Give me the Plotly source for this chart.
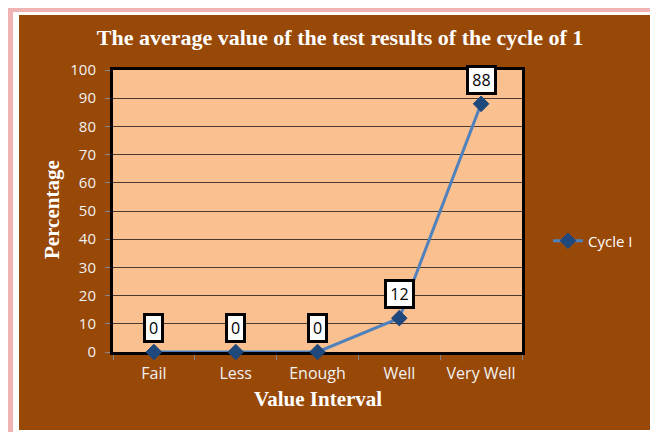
import plotly.graph_objects as go

categories = ["Fail", "Less", "Enough", "Well", "Very Well"]
values = [0, 0, 0, 12, 88]
series_name = "Cycle I"
title_text = "The average value of the test results of the cycle of 1"
x_title = "Value Interval"
y_title = "Percentage"

OFF = 8  # page body margin
W, H = 658, 432
L, R, T, B = 113 - OFF, 522 - OFF, 70 - OFF, 352 - OFF  # plot area in figure px


def px(x):
    """page x -> paper x"""
    return (x - OFF - L) / (R - L)


def py(y):
    """page y -> paper y"""
    return (B - (y - OFF)) / (B - T)


BROWN = "#984807"
PEACH = "#FAC090"
serif = "Liberation Serif, Times New Roman, serif"
sans = "Open Sans, Noto Sans, sans-serif"

fig = go.Figure()
fig.add_trace(go.Scatter(
    x=categories, y=values, mode="lines+markers", name=series_name,
    line=dict(color="#4F81BD", width=3),
    marker=dict(symbol="diamond", size=12, color="#1F497D",
                line=dict(color="#1F497D", width=1)),
    cliponaxis=False,
))

annotations = []
for c, v in zip(categories, values):
    label = str(v)
    annotations.append(dict(
        x=c, y=v, xref="x", yref="y", text=label, showarrow=False,
        yshift=24, height=20, width=10 * len(label) + 1,
        font=dict(family=sans, size=16, color="#000000"),
        bgcolor="#FFFFFF", bordercolor="#000000", borderwidth=3, borderpad=2,
    ))

annotations.append(dict(
    text="<b>" + x_title + "</b>", xref="paper", yref="paper",
    x=px(318), y=py(399), xanchor="center", yanchor="middle", showarrow=False,
    font=dict(family=serif, size=21, color="#FFFFFF")))
annotations.append(dict(
    text="<b>" + y_title + "</b>", xref="paper", yref="paper", textangle=-90,
    x=px(52), y=py(210), xanchor="center", yanchor="middle", showarrow=False,
    font=dict(family=serif, size=21, color="#FFFFFF")))

shapes = [
    # pink glow frame
    dict(type="rect", xref="paper", yref="paper", layer="below",
         x0=px(10), x1=px(656), y0=py(445), y1=py(9),
         line=dict(color="#EFB3B3", width=6), fillcolor="#FFFFFF"),
    # white inner frame
    dict(type="rect", xref="paper", yref="paper", layer="below",
         x0=px(13), x1=px(654), y0=py(445), y1=py(12),
         line=dict(width=0), fillcolor="#FFFFFF"),
    # brown panel
    dict(type="rect", xref="paper", yref="paper", layer="below",
         x0=px(19), x1=px(650), y0=py(430), y1=py(15),
         line=dict(width=0), fillcolor=BROWN),
    # plot area fill
    dict(type="rect", xref="paper", yref="paper", layer="below",
         x0=0, x1=1, y0=0, y1=1,
         line=dict(width=0), fillcolor=PEACH),
]

fig.update_layout(
    width=W, height=H,
    margin=dict(l=L, r=W - R, t=T, b=H - B, autoexpand=False),
    paper_bgcolor="#FFFFFF",
    plot_bgcolor="rgba(0,0,0,0)",
    title=dict(text="<b>" + title_text + "</b>", x=px(340), xref="paper",
               xanchor="center", y=1 - (37 - OFF) / H, yanchor="middle",
               font=dict(family=serif, size=22, color="#FFFFFF")),
    xaxis=dict(
        type="category", range=[-0.5, 4.5],
        showline=True, linecolor="#000000", linewidth=3, mirror=True,
        layer="below traces",
        ticks="outside", tickson="boundaries", ticklen=5, tickcolor="#888888",
        showgrid=False, ticklabelstandoff=5,
        tickfont=dict(family=sans, size=16, color="#F2F2F2"),
    ),
    yaxis=dict(
        range=[0, 100], dtick=10, tick0=0,
        showline=True, linecolor="#000000", linewidth=3, mirror=True,
        layer="below traces",
        ticks="outside", ticklen=5, tickcolor="#888888",
        showgrid=True, gridcolor="#4A3A30", gridwidth=1,
        zeroline=False, ticklabelstandoff=6,
        tickfont=dict(family=sans, size=15, color="#F2F2F2"),
    ),
    showlegend=True,
    legend=dict(x=px(548), y=py(241), xanchor="left", yanchor="middle",
                bgcolor="rgba(0,0,0,0)",
                font=dict(family=sans, size=15, color="#FFFFFF")),
    annotations=annotations,
    shapes=shapes,
)

fig.write_html("out.html")
